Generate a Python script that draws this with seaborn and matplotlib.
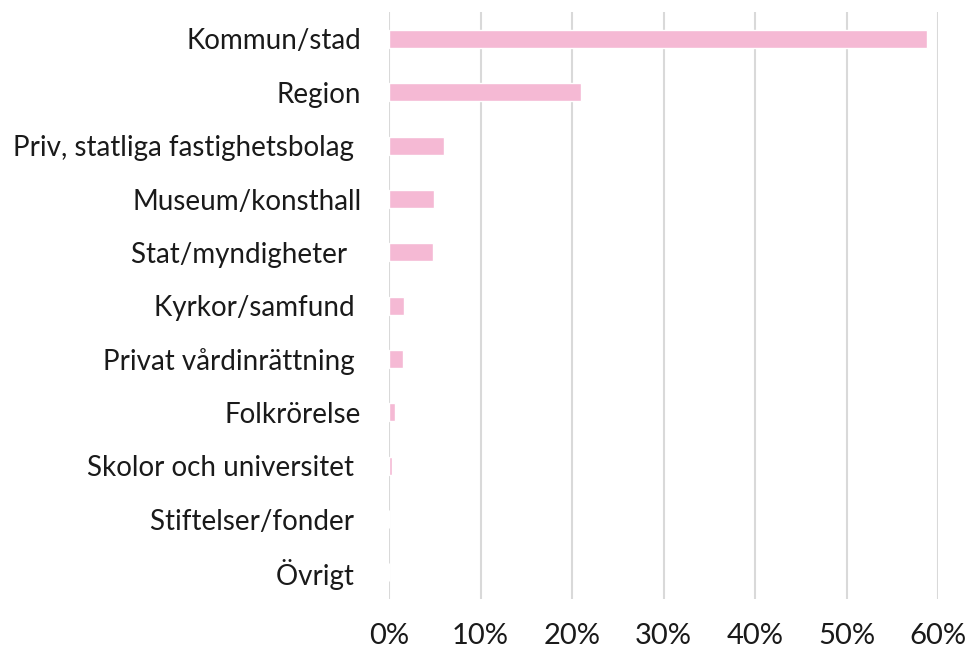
import matplotlib
matplotlib.use('Agg')
import matplotlib.pyplot as plt
import seaborn as sns
import pandas as pd
from matplotlib.ticker import PercentFormatter

categories = ['Kommun/stad', 'Region', 'Priv, statliga fastighetsbolag ', 'Museum/konsthall',
              'Stat/myndigheter  ', 'Kyrkor/samfund ', 'Privat vårdinrättning ', 'Folkrörelse',
              'Skolor och universitet ', 'Stiftelser/fonder ', 'Övrigt ']
shares = [58.8, 21.0, 6.0, 4.9, 4.8, 1.6, 1.5, 0.6, 0.3, 0.0, 0.0]

df = pd.DataFrame({'category': categories, 'share': shares})

sns.set_style('white')
plt.rcParams['font.family'] = ['Lato', 'DejaVu Sans']

fig = plt.figure(figsize=(9.68, 6.49), dpi=100)
ax = fig.add_axes([0.402, 0.077, 0.567, 0.904])

sns.barplot(data=df, x='share', y='category', color='#F5B9D4', saturation=1,
            width=0.34, ax=ax, zorder=3)

ax.set_xlim(0, 60)
ax.set_ylim(len(categories) - 0.5, -0.5)
ax.set_xticks(range(0, 61, 10))
ax.xaxis.set_major_formatter(PercentFormatter(decimals=0))
ax.grid(axis='x', color='#D9D9D9', linewidth=1.5, zorder=0)
ax.grid(axis='y', visible=False)
ax.set_axisbelow(True)
ax.set_xlabel('')
ax.set_ylabel('')
sns.despine(left=True, bottom=True)
ax.tick_params(axis='y', length=0, pad=20, labelsize=20, labelcolor='#1a1a1a')
ax.tick_params(axis='x', length=0, pad=17, labelsize=21, labelcolor='#1a1a1a')

plt.savefig('out.png', dpi=100)
